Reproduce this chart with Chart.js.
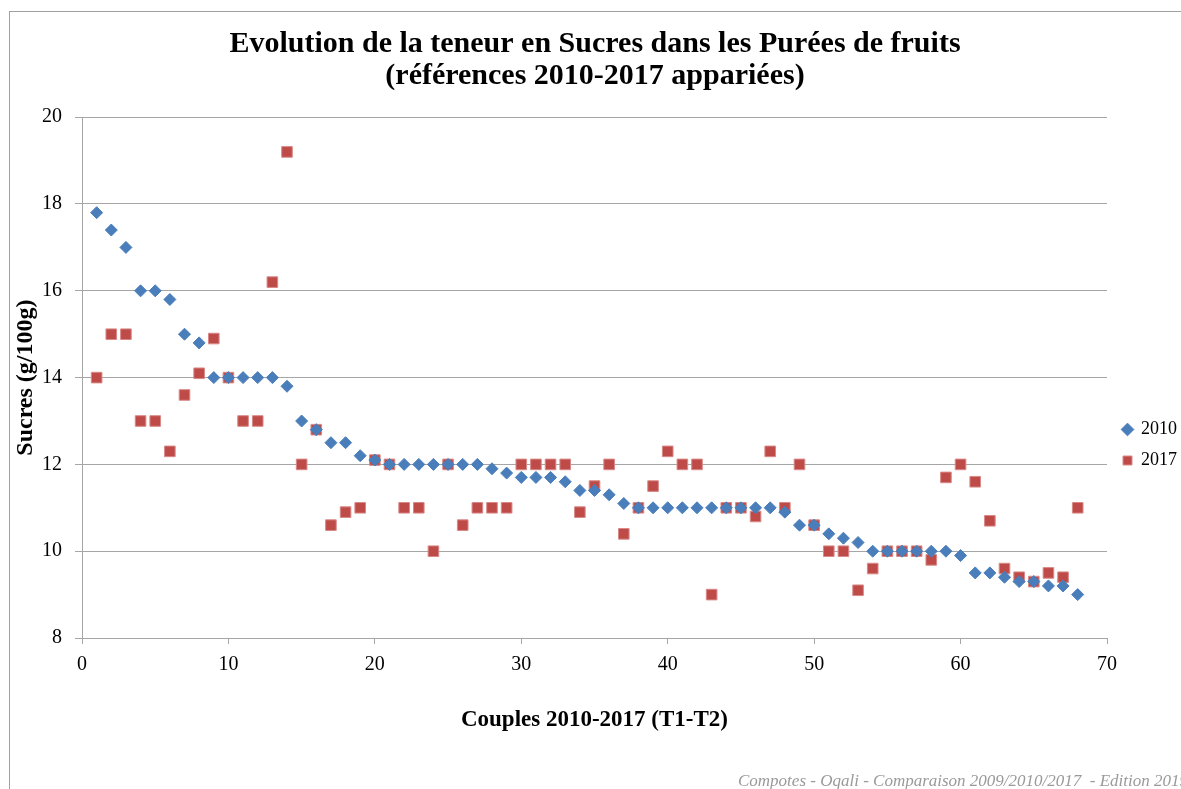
<!DOCTYPE html>
<html>
<head>
<meta charset="utf-8">
<script src="https://cdn.jsdelivr.net/npm/chart.js@4/dist/chart.umd.min.js"></script>
<style>
  html, body { margin: 0; padding: 0; background: #fff; overflow: hidden; }
  #wrap { position: relative; width: 1181px; height: 789px; overflow: hidden; }
  #frame { position: absolute; left: 9px; top: 11px; width: 1200px; height: 800px;
           border-top: 1px solid #a0a0a0; border-left: 1px solid #a0a0a0; }
  #pureeChart { position: absolute; left: 0; top: 0; }
  #source { position: absolute; left: 738px; top: 771px; white-space: nowrap;
            font-family: "Liberation Serif", serif; font-style: italic; font-size: 17px; color: #9a9a9a; }
</style>
</head>
<body>
<div id="wrap">
  <div id="frame"></div>
  <canvas id="pureeChart" width="1181" height="789"></canvas>
  <div id="source">Compotes - Oqali - Comparaison 2009/2010/2017&nbsp; - Edition 2019</div>
</div>
<script>
// couples 1..68
const couples = [];
for (let i = 1; i <= 68; i++) couples.push(i);

const sucres2010 = [
  17.8, 17.4, 17.0, 16.0, 16.0, 15.8, 15.0, 14.8, 14.0, 14.0,
  14.0, 14.0, 14.0, 13.8, 13.0, 12.8, 12.5, 12.5, 12.2, 12.1,
  12.0, 12.0, 12.0, 12.0, 12.0, 12.0, 12.0, 11.9, 11.8, 11.7,
  11.7, 11.7, 11.6, 11.4, 11.4, 11.3, 11.1, 11.0, 11.0, 11.0,
  11.0, 11.0, 11.0, 11.0, 11.0, 11.0, 11.0, 10.9, 10.6, 10.6,
  10.4, 10.3, 10.2, 10.0, 10.0, 10.0, 10.0, 10.0, 10.0, 9.9,
  9.5, 9.5, 9.4, 9.3, 9.3, 9.2, 9.2, 9.0
];

const sucres2017 = [
  14.0, 15.0, 15.0, 13.0, 13.0, 12.3, 13.6, 14.1, 14.9, 14.0,
  13.0, 13.0, 16.2, 19.2, 12.0, 12.8, 10.6, 10.9, 11.0, 12.1,
  12.0, 11.0, 11.0, 10.0, 12.0, 10.6, 11.0, 11.0, 11.0, 12.0,
  12.0, 12.0, 12.0, 10.9, 11.5, 12.0, 10.4, 11.0, 11.5, 12.3,
  12.0, 12.0, 9.0, 11.0, 11.0, 10.8, 12.3, 11.0, 12.0, 10.6,
  10.0, 10.0, 9.1, 9.6, 10.0, 10.0, 10.0, 9.8, 11.7, 12.0,
  11.6, 10.7, 9.6, 9.4, 9.3, 9.5, 9.4, 11.0
];

const xTicks = [0, 10, 20, 30, 40, 50, 60, 70];
const yTicks = [8, 10, 12, 14, 16, 18, 20];

function toPoints(values) {
  return values.map((v, i) => ({ x: couples[i], y: v }));
}

const serif = '"Liberation Serif", "DejaVu Serif", serif';
const gridGray = '#a6a6a6';

// legend sits lower than the middle of the plot in the original
const legendShift = {
  id: 'legendShift',
  afterLayout(chart) {
    const lg = chart.legend;
    if (!lg) return;
    lg.top += 76;
    lg.bottom += 76;
    lg.left += 3;
    lg.right += 3;
  }
};

const ctx = document.getElementById('pureeChart');
const pureeChart = new Chart(ctx, {
    type: 'scatter',
    data: {
        datasets: [{
            label: '2010',
            data: toPoints(sucres2010),
            pointStyle: 'rectRot',
            pointRadius: 6,
            pointHoverRadius: 6,
            backgroundColor: '#4a7ebb',
            borderColor: '#4a7ebb',
            borderWidth: 1
        }, {
            label: '2017',
            data: toPoints(sucres2017),
            pointStyle: 'rect',
            pointRadius: 7.5,
            pointHoverRadius: 7.5,
            backgroundColor: '#be4b48',
            borderColor: '#d98a88',
            borderWidth: 1
        }]
    },
    options: {
        responsive: false,
        animation: false,
        layout: { padding: { left: 9, right: 0, top: 0, bottom: 51 } },
        plugins: {
            title: {
                display: true,
                text: ['Evolution de la teneur en Sucres dans les Purées de fruits',
                       '(références 2010-2017 appariées)'],
                color: '#000',
                font: { family: serif, size: 30, weight: 'bold', lineHeight: 1.07 },
                padding: { top: 28, bottom: 25 }
            },
            legend: {
                position: 'right',
                maxWidth: 74,
                labels: {
                    usePointStyle: true,
                    boxWidth: 9,
                    boxHeight: 9,
                    color: '#000',
                    font: { family: serif, size: 18 },
                    padding: 13
                }
            },
            tooltip: { enabled: false }
        },
        scales: {
            x: {
                type: 'linear',
                min: 0,
                max: 70,
                afterBuildTicks: (scale) => { scale.ticks = xTicks.map(v => ({ value: v })); },
                afterFit: (scale) => { scale.height = 100; },
                border: { color: gridGray, width: 1 },
                grid: { drawOnChartArea: false, drawTicks: true, tickLength: 6, color: gridGray },
                ticks: { color: '#000', font: { family: serif, size: 20 }, padding: 9 },
                title: {
                    display: true,
                    text: 'Couples 2010-2017 (T1-T2)',
                    color: '#000',
                    font: { family: serif, size: 23, weight: 'bold' },
                    padding: { top: 0, bottom: 4 }
                }
            },
            y: {
                type: 'linear',
                min: 8,
                max: 20,
                afterBuildTicks: (scale) => { scale.ticks = yTicks.map(v => ({ value: v })); },
                afterFit: (scale) => { scale.width = 73; },
                border: { color: gridGray, width: 1 },
                grid: { color: gridGray, lineWidth: 1, tickLength: 7 },
                ticks: { color: '#000', font: { family: serif, size: 20 }, padding: 13 },
                title: {
                    display: true,
                    text: 'Sucres (g/100g)',
                    color: '#000',
                    font: { family: serif, size: 24, weight: 'bold' },
                    padding: { top: 2, bottom: 0 }
                }
            }
        }
    },
    plugins: [legendShift]
});
</script>
</body>
</html>
